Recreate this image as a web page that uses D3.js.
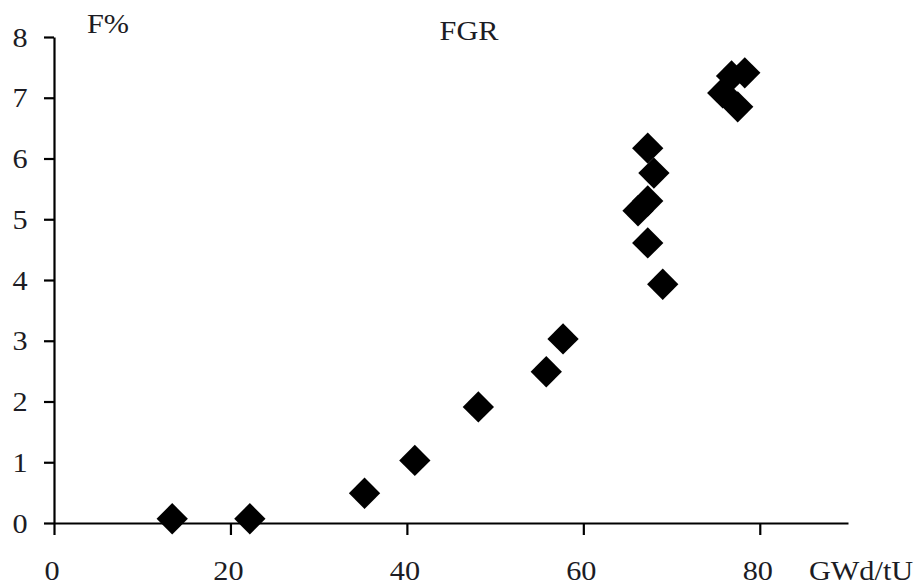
<!DOCTYPE html>
<html>
<head>
<meta charset="utf-8">
<script src="https://cdn.jsdelivr.net/npm/d3@7"></script>
<style>
    body { margin: 0; background: #fff; }
    text { font-family: "Liberation Serif", "Times New Roman", serif; fill: #1c1c24; }
</style>
</head>
<body>
<div id="chart"></div>
<script>
// burnup (GWd/tU) vs fission gas release F%
let burnup = [13.4, 22.2, 35.2, 40.9, 48.1, 55.8, 57.7, 67.3, 68.0, 66.2, 67.3, 67.3, 69.0, 78.3, 76.8, 75.8, 77.5];
let fgr = [0.07, 0.07, 0.49, 1.03, 1.91, 2.49, 3.03, 6.17, 5.76, 5.14, 5.30, 4.61, 3.93, 7.41, 7.36, 7.08, 6.85];
let xTicks = [0, 20, 40, 60, 80];
let yTicks = [0, 1, 2, 3, 4, 5, 6, 7, 8];

let svgWidth = 923;
let svgHeight = 587;
let stretch = 1.1; // text in the picture looks a bit wide

let svg = d3.select('#chart').append('svg')
    .attr('width', svgWidth)
    .attr('height', svgHeight);

let x = d3.scaleLinear()
    .domain([0, 90])
    .range([54, 848]);

let y = d3.scaleLinear()
    .domain([0, 8])
    .range([523, 37]);

function label(txt, px, py, anchor) {
    svg.append('text')
        .text(txt)
        .attr('transform', 'translate(' + px + ',' + py + ') scale(' + stretch + ',1)')
        .attr('text-anchor', anchor)
        .style('font-size', '27.5px');
}

// axes
let xAxis = svg.append('g')
    .attr('transform', 'translate(0,' + y(0) + ')')
    .call(d3.axisBottom(x).tickValues(xTicks).tickSize(12).tickSizeOuter(0).tickFormat(''));

let yAxis = svg.append('g')
    .attr('transform', 'translate(' + x(0) + ',0)')
    .call(d3.axisLeft(y).tickValues(yTicks).tickSize(10).tickSizeOuter(0).tickFormat(''));

svg.selectAll('.domain, .tick line')
    .attr('stroke', '#000')
    .attr('stroke-width', 2.2);

// tick labels
for (let t of xTicks) {
    label(t, x(t) - 2, 580, 'middle');
}
for (let t of yTicks) {
    label(t, 20, y(t) + 9.5, 'middle');
}

// titles
label('F%', 87, 33, 'start');
label('FGR', 469, 40, 'middle');
label('GWd/tU', 809, 580, 'start');

// points
let diamond = d3.symbol().type(d3.symbolSquare).size(490);

svg.append('g').selectAll('path')
    .data(burnup)
    .enter()
    .append('path')
    .attr('d', diamond)
    .attr('transform', (d, i) => 'translate(' + x(d) + ',' + y(fgr[i]) + ') rotate(45)')
    .attr('fill', '#000');
</script>
</body>
</html>
